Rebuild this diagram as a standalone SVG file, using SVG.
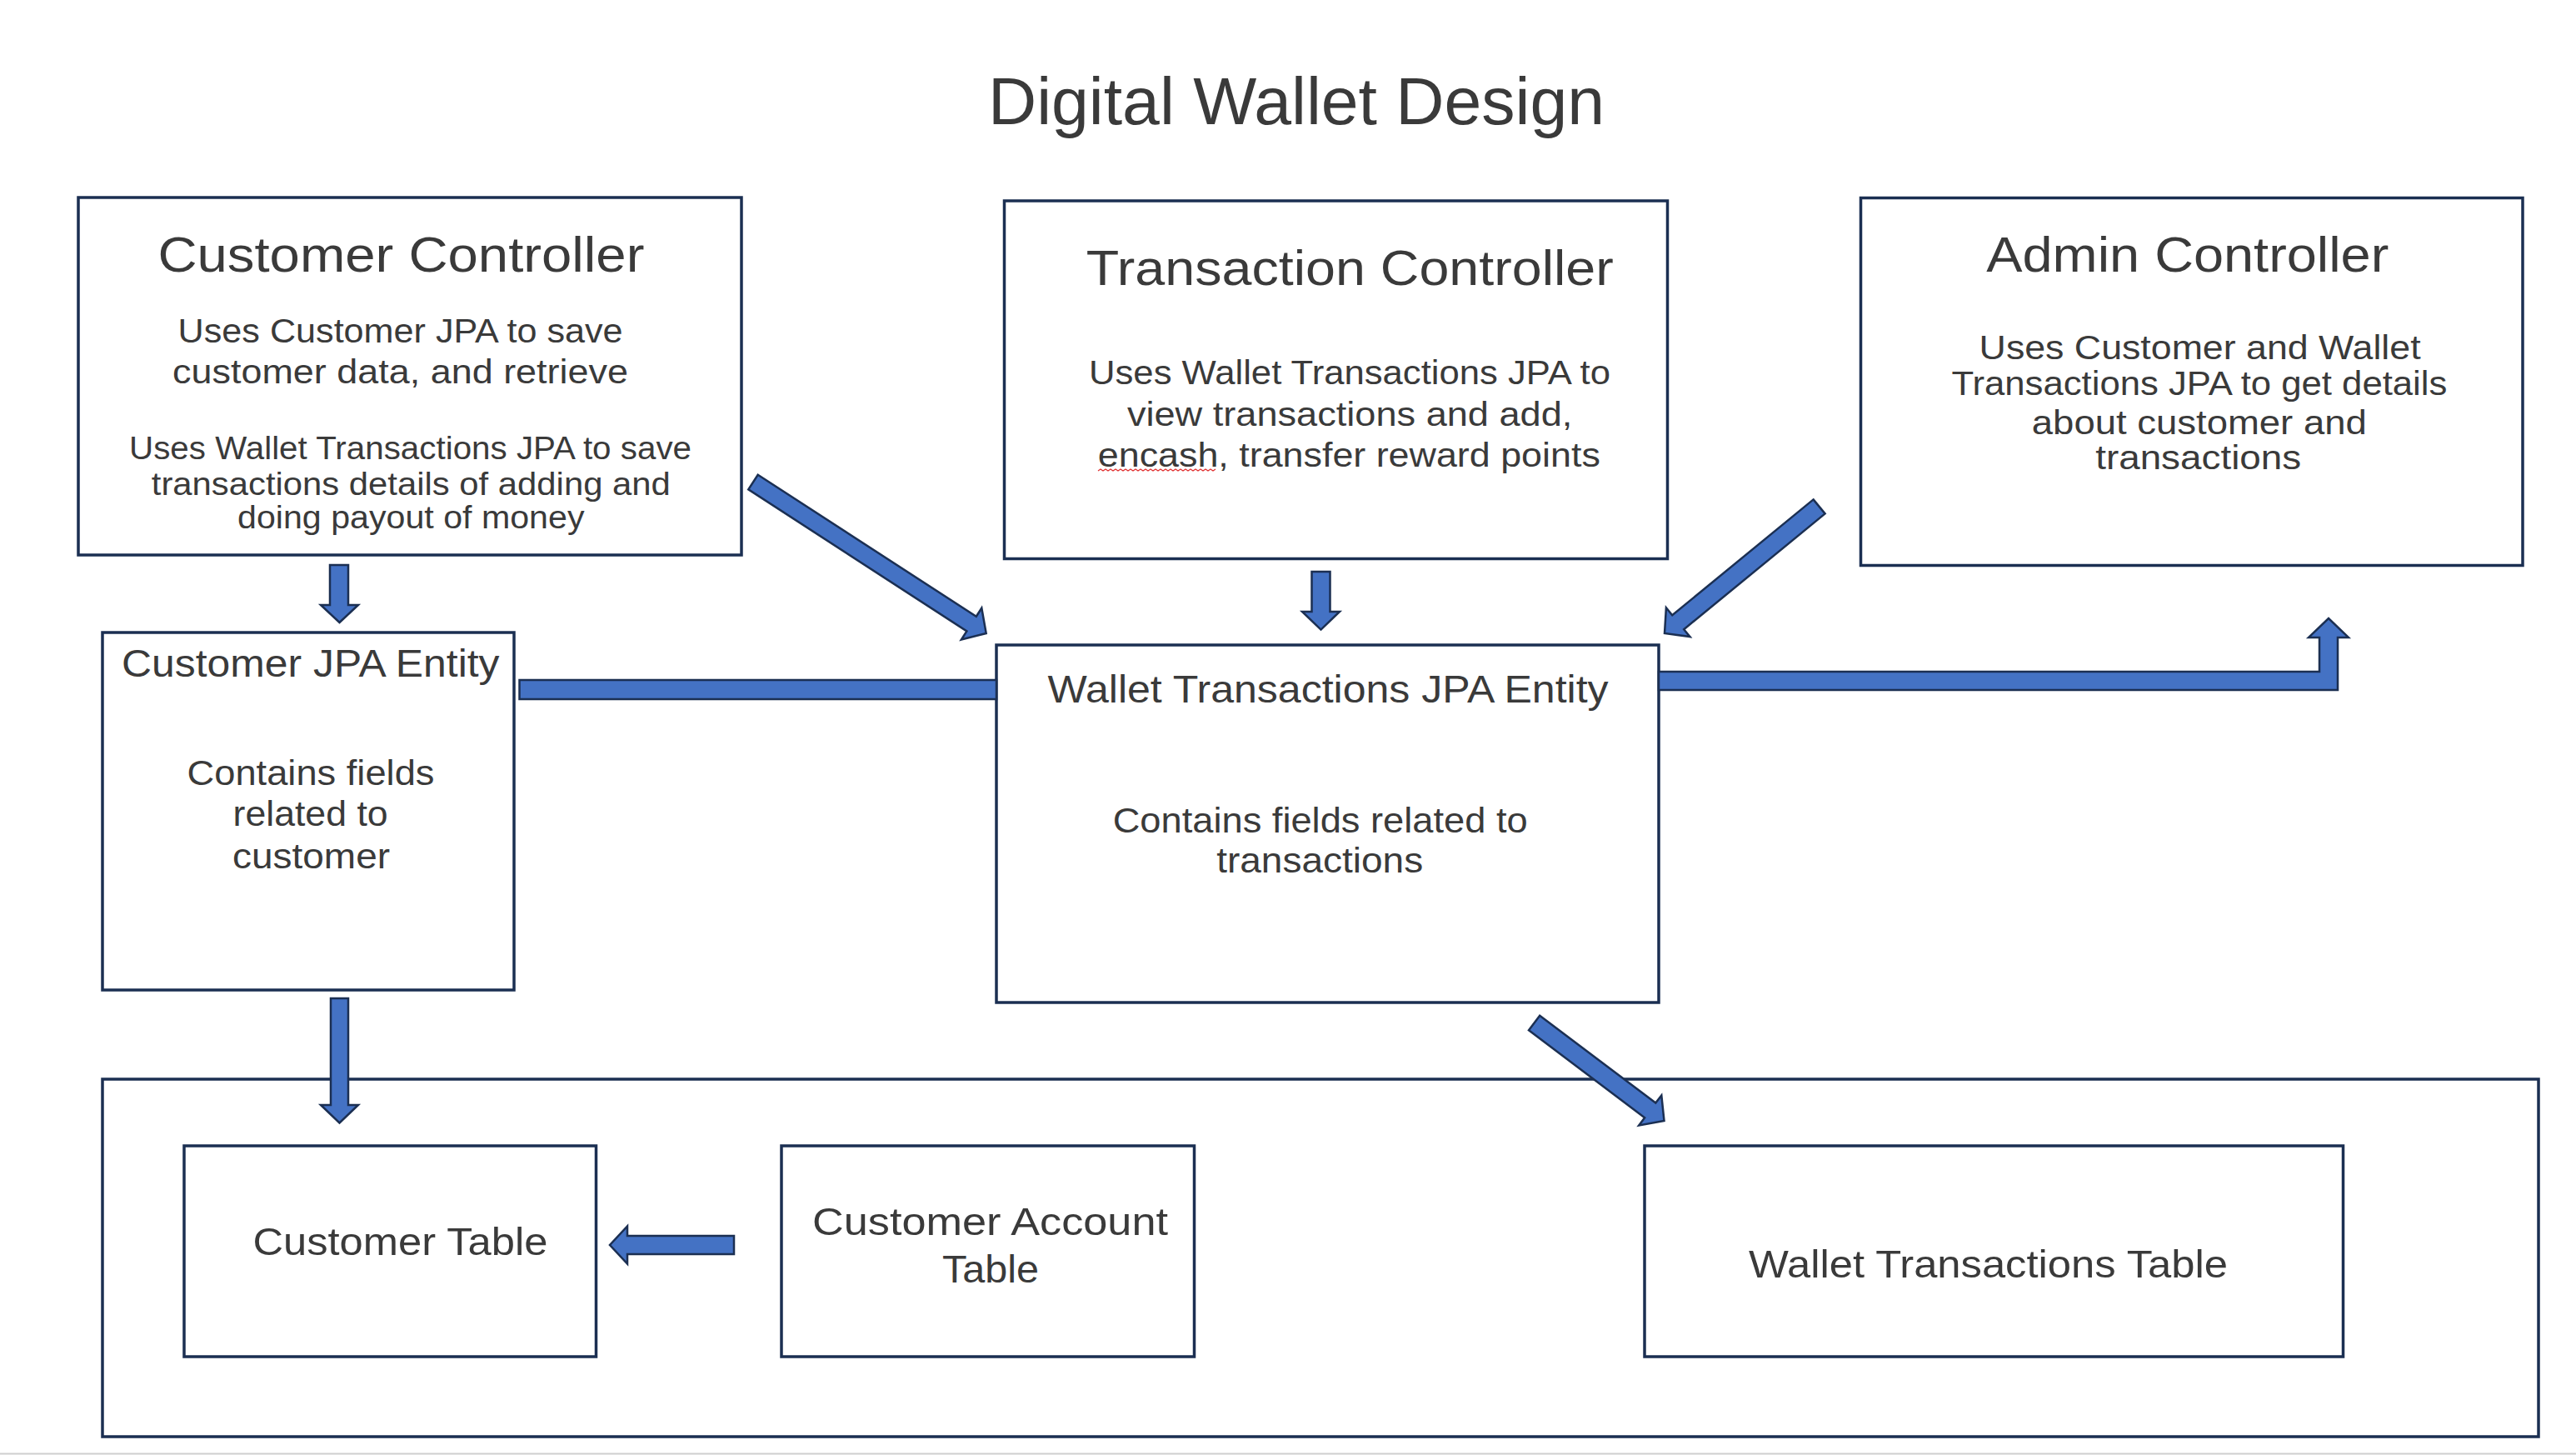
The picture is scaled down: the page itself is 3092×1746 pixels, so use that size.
<svg xmlns="http://www.w3.org/2000/svg" width="3092" height="1746" viewBox="0 0 3092 1746">
<style>
.box{fill:#ffffff;stroke:#1b2f52;stroke-width:3.5}
.arr{fill:#4472c4;stroke:#1b2f52;stroke-width:2.5;stroke-linejoin:miter}
text{font-family:"Liberation Sans",Arial,sans-serif;fill:#3a3a3a}
.title{font-size:80px}
.h{font-size:60px}
.b{font-size:41px}
.b2{font-size:38px}
.eh{font-size:46px}
.eb{font-size:42px}
</style>
<rect x="0" y="0" width="3092" height="1746" fill="#ffffff"/>
<line x1="0" y1="1744.5" x2="3092" y2="1744.5" stroke="#cfcfcf" stroke-width="2"/>

<text class="title" x="1186" y="149" textLength="740" lengthAdjust="spacingAndGlyphs">Digital Wallet Design</text>

<g id="storage-container">
<rect class="box" x="123" y="1295" width="2924" height="429"/>
</g>

<g id="customer-controller">
<rect class="box" x="94" y="237" width="796" height="429"/>
<text class="h" x="189.4" y="326" textLength="584" lengthAdjust="spacingAndGlyphs">Customer Controller</text>
<text class="b" x="213.6" y="410.7" textLength="534" lengthAdjust="spacingAndGlyphs">Uses Customer JPA to save</text>
<text class="b" x="207" y="460" textLength="547" lengthAdjust="spacingAndGlyphs">customer data, and retrieve</text>
<text class="b2" x="155" y="551" textLength="675" lengthAdjust="spacingAndGlyphs">Uses Wallet Transactions JPA to save</text>
<text class="b2" x="181.8" y="593.7" textLength="623" lengthAdjust="spacingAndGlyphs">transactions details of adding and</text>
<text class="b2" x="285" y="634" textLength="416.5" lengthAdjust="spacingAndGlyphs">doing payout of money</text>
</g>

<g id="transaction-controller">
<rect class="box" x="1205.5" y="241" width="796" height="429.5"/>
<text class="h" x="1303.8" y="341.5" textLength="633" lengthAdjust="spacingAndGlyphs">Transaction Controller</text>
<text class="b" x="1307" y="460.7" textLength="626" lengthAdjust="spacingAndGlyphs">Uses Wallet Transactions JPA to</text>
<text class="b" x="1352.9" y="511" textLength="534.5" lengthAdjust="spacingAndGlyphs">view transactions and add,</text>
<text class="b" x="1317.8" y="560" textLength="603" lengthAdjust="spacingAndGlyphs">encash, transfer reward points</text>
<path d="M1318 565 l3 -2 l3 2 l3 -2 l3 2 l3 -2 l3 2 l3 -2 l3 2 l3 -2 l3 2 l3 -2 l3 2 l3 -2 l3 2 l3 -2 l3 2 l3 -2 l3 2 l3 -2 l3 2 l3 -2 l3 2 l3 -2 l3 2 l3 -2 l3 2 l3 -2 l3 2 l3 -2 l3 2 l3 -2 l3 2 l3 -2 l3 2 l3 -2 l3 2 l3 -2 l3 2 l3 -2 l3 2 l3 -2 l3 2 l3 -2 l3 2 l3 -2 l3 2 l3 -2" fill="none" stroke="#e03030" stroke-width="1.3"/>
</g>

<g id="admin-controller">
<rect class="box" x="2233.5" y="237.5" width="794.5" height="441"/>
<text class="h" x="2384.3" y="326.3" textLength="483" lengthAdjust="spacingAndGlyphs">Admin Controller</text>
<text class="b" x="2375.6" y="431.3" textLength="530" lengthAdjust="spacingAndGlyphs">Uses Customer and Wallet</text>
<text class="b" x="2342.4" y="473.7" textLength="595" lengthAdjust="spacingAndGlyphs">Transactions JPA to get details</text>
<text class="b" x="2438.8" y="520.5" textLength="402" lengthAdjust="spacingAndGlyphs">about customer and</text>
<text class="b" x="2515.2" y="563" textLength="247" lengthAdjust="spacingAndGlyphs">transactions</text>
</g>

<g id="customer-jpa-entity">
<rect class="box" x="123" y="759" width="494" height="429"/>
<text class="eh" x="146" y="812" textLength="453.5" lengthAdjust="spacingAndGlyphs">Customer JPA Entity</text>
<text class="eb" x="224.5" y="942" textLength="297" lengthAdjust="spacingAndGlyphs">Contains fields</text>
<text class="eb" x="279.6" y="991" textLength="186" lengthAdjust="spacingAndGlyphs">related to</text>
<text class="eb" x="279" y="1042" textLength="189" lengthAdjust="spacingAndGlyphs">customer</text>
</g>

<g id="wallet-transactions-jpa-entity">
<rect class="box" x="1196" y="774" width="795" height="429"/>
<text class="eh" x="1257.6" y="843" textLength="673" lengthAdjust="spacingAndGlyphs">Wallet Transactions JPA Entity</text>
<text class="eb" x="1335.7" y="999" textLength="498" lengthAdjust="spacingAndGlyphs">Contains fields related to</text>
<text class="eb" x="1460.2" y="1047" textLength="248" lengthAdjust="spacingAndGlyphs">transactions</text>
</g>

<g id="customer-table">
<rect class="box" x="221" y="1375" width="494.5" height="253"/>
<text class="eh" x="303.4" y="1506" textLength="354" lengthAdjust="spacingAndGlyphs">Customer Table</text>
</g>

<g id="customer-account-table">
<rect class="box" x="938" y="1375" width="495.5" height="253"/>
<text class="eh" x="975" y="1482" textLength="427" lengthAdjust="spacingAndGlyphs">Customer Account</text>
<text class="eh" x="1131" y="1539" textLength="116" lengthAdjust="spacingAndGlyphs">Table</text>
</g>

<g id="wallet-transactions-table">
<rect class="box" x="1974" y="1375" width="838.5" height="253"/>
<text class="eh" x="2099" y="1532.7" textLength="575" lengthAdjust="spacingAndGlyphs">Wallet Transactions Table</text>
</g>

<g id="connectors">
<polygon class="arr" points="396,678 418,678 418,726 430,726 407.5,747 385,726 396,726"/>
<polygon class="arr" points="397,1198 418,1198 418,1326 430,1326 407.5,1347.5 385,1326 397,1326"/>
<rect class="arr" x="623.5" y="816" width="572.5" height="23"/>
<polygon class="arr" points="909.7,569.7 1171.8,739.8 1178.3,729.7 1183.7,760 1153.9,767.5 1160.4,757.4 898.3,587.3"/>
<polygon class="arr" points="1574.5,686 1596.5,686 1596.5,734 1608,734 1585.5,755.6 1563,734 1574.5,734"/>
<polygon class="arr" points="2176.6,599.4 2190.6,616.4 2021.2,755.2 2028.5,764.1 1998,760 1999.9,729.3 2007.2,738.2"/>
<polygon class="arr" points="1991,806 2784,806 2784,765 2771,765 2795,742 2819,765 2806,765 2806,828 1991,828"/>
<polygon class="arr" points="1848.2,1218.7 1987.3,1323.6 1994.3,1314.4 1997.5,1345 1967.2,1350.4 1974.1,1341.2 1835,1236.3"/>
<polygon class="arr" points="881,1483 753,1483 753,1471.5 732,1494 753,1516.5 753,1505 881,1505"/>
</g>
</svg>
